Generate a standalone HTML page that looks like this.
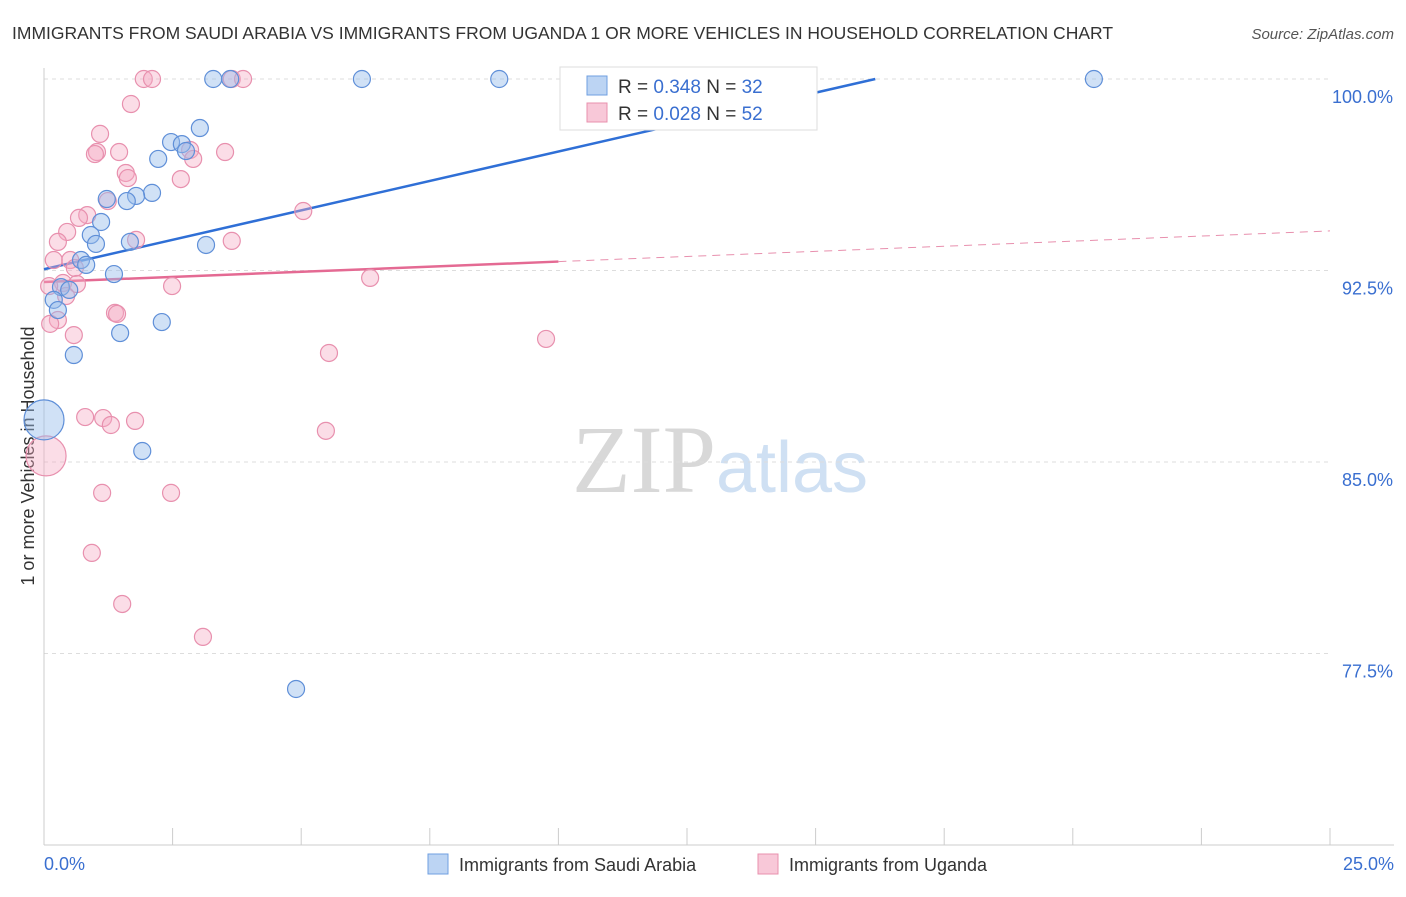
<!DOCTYPE html>
<html><head><meta charset="utf-8"><style>
body{margin:0;background:#fff;font-family:"Liberation Sans",sans-serif;}
</style></head><body>
<svg id="chart" width="1406" height="892" xmlns="http://www.w3.org/2000/svg">
<text x="12" y="39" font-size="17.5" fill="#333">IMMIGRANTS FROM SAUDI ARABIA VS IMMIGRANTS FROM UGANDA 1 OR MORE VEHICLES IN HOUSEHOLD CORRELATION CHART</text>
<text x="1394" y="39" font-size="15" fill="#555" text-anchor="end" font-style="italic">Source: ZipAtlas.com</text>
<text x="34" y="456" font-size="18" fill="#333" text-anchor="middle" transform="rotate(-90 34 456)">1 or more Vehicles in Household</text>
<text x="720" y="492" font-size="96" fill="#ddd" text-anchor="middle" font-family="Liberation Serif,serif"><tspan fill="#d8d8d8">ZIP</tspan><tspan fill="#cfe0f3" font-family="Liberation Sans,sans-serif" font-size="72">atlas</tspan></text>
<g id="grid"></g><g id="axes"></g><g id="trend"></g><g id="pts"></g>
<g>
<rect x="560" y="67" width="257" height="63" fill="#fff" stroke="#ddd"/>
<rect x="587" y="76" width="20" height="19" fill="#bcd4f3" stroke="#6f9fe0"/>
<text x="618" y="93" font-size="19" fill="#333">R = <tspan fill="#3a6fd0">0.348</tspan>   N = <tspan fill="#3a6fd0">32</tspan></text>
<rect x="587" y="103" width="20" height="19" fill="#f8c8d8" stroke="#e890ae"/>
<text x="618" y="120" font-size="19" fill="#333">R = <tspan fill="#3a6fd0">0.028</tspan>   N = <tspan fill="#3a6fd0">52</tspan></text>
</g>
<g>
<rect x="428" y="854" width="20" height="20" fill="#bcd4f3" stroke="#6f9fe0"/>
<text x="459" y="871" font-size="18" fill="#333">Immigrants from Saudi Arabia</text>
<rect x="758" y="854" width="20" height="20" fill="#f8c8d8" stroke="#e890ae"/>
<text x="789" y="871" font-size="18" fill="#333">Immigrants from Uganda</text>
</g>
</svg>
<script>
const yTicks=[100,92.5,85,77.5];
const yTickLabels=["100.0%","92.5%","85.0%","77.5%"];
const xTickLabels=["0.0%","25.0%"];
const saudiX=[3.29,3.62,6.18,8.85,20.41,3.03,2.47,2.68,2.76,2.22,2.10,1.79,1.61,1.22,1.11,0.91,1.01,1.67,3.15,0.72,0.82,1.36,0.33,0.49,0.19,0.27,1.48,2.29,0.58,0,1.91,4.90];
const saudiY=[100,100,100,100,100,98.08,97.53,97.45,97.18,96.87,95.54,95.42,95.22,95.30,94.40,93.89,93.54,93.62,93.50,92.91,92.72,92.36,91.85,91.74,91.35,90.95,90.05,90.48,89.19,86.65,85.43,76.11];
const saudiBig=[29];
const ugX=[1.94,2.10,3.65,3.87,1.69,1.09,1.03,0.99,1.46,2.84,2.90,3.52,1.59,1.63,2.66,1.24,5.04,0.84,0.68,0.45,0.27,1.79,3.65,0.19,0.51,0.60,0.37,0.64,0.10,2.49,6.34,1.38,1.42,0.27,0.12,0.58,5.54,9.76,0.80,1.15,1.30,1.77,5.48,0.04,1.13,2.47,0.93,1.52,3.09,0.43];
const ugY=[100,100,100,100,99.02,97.85,97.14,97.06,97.14,97.22,96.87,97.14,96.32,96.12,96.08,95.22,94.83,94.67,94.56,94.01,93.62,93.70,93.66,92.91,92.91,92.60,92.01,91.97,91.89,91.89,92.21,90.84,90.80,90.56,90.41,89.97,89.27,89.82,86.76,86.72,86.45,86.61,86.22,85.24,83.79,83.79,81.44,79.44,78.15,91.50];
const ugBig=[43];
const saudiTrend=[92.55,0.461];
const ugTrend=[92.05,0.08];
const NS="http://www.w3.org/2000/svg";
const X=v=>44+v/25*1286, Y=v=>79+(100-v)/7.5*191.5;
function mk(p,t,a){const e=document.createElementNS(NS,t);for(const k in a)e.setAttribute(k,a[k]);document.getElementById(p).appendChild(e);return e;}
yTicks.forEach((t,i)=>{
 const l=mk('grid','line',{x1:44,x2:1330,y1:Y(t),y2:Y(t),stroke:'#ddd','stroke-dasharray':'4,4'});
 
 
 const tx=mk('grid','text',{x:1393,y:Y(t)+24,'font-size':18,fill:'#3a6fd0','text-anchor':'end'});
 tx.textContent=yTickLabels[i];
 
 
});
const xa=mk('axes','line',{x1:44,x2:1394,y1:845,y2:845,stroke:'#ccc'});


const ya=mk('axes','line',{x1:44,x2:44,y1:68,y2:845,stroke:'#ccc'});


for(let i=0;i<=10;i++){const t=mk('axes','line',{x1:X(i*2.5),x2:X(i*2.5),y1:828,y2:845,stroke:'#ccc'});
 
 }
[[0,'start',44],[25,'end',1394]].forEach((d,i)=>{const t=mk('axes','text',{x:d[2],y:870,'font-size':18,fill:'#3a6fd0','text-anchor':d[1]});t.textContent=xTickLabels[i];
 
 });
const xEnd=(100-saudiTrend[0])/saudiTrend[1];
const bl=mk('trend','line',{x1:X(0),y1:Y(saudiTrend[0]),x2:X(xEnd),y2:Y(100),stroke:'#2f6fd6','stroke-width':2.5});


const pl=mk('trend','line',{x1:X(0),y1:Y(ugTrend[0]),x2:X(10),y2:Y(ugTrend[0]+10*ugTrend[1]),stroke:'#e46a93','stroke-width':2.5});


const pd=mk('trend','line',{x1:X(10),y1:Y(ugTrend[0]+10*ugTrend[1]),x2:X(25),y2:Y(ugTrend[0]+25*ugTrend[1]),stroke:'#e890ae','stroke-width':1,'stroke-dasharray':'8,6'});


ugX.forEach((x,i)=>{const c=mk('pts','circle',{cx:X(x),cy:Y(ugY[i]),r:ugBig.includes(i)?20:8.5,fill:'rgba(245,170,196,0.4)',stroke:'#e890ae','stroke-width':1.2});
 
 });
saudiX.forEach((x,i)=>{const c=mk('pts','circle',{cx:X(x),cy:Y(saudiY[i]),r:saudiBig.includes(i)?20:8.5,fill:'rgba(150,188,236,0.45)',stroke:'#5f8fd8','stroke-width':1.2});
 
 });
</script>
</body></html>
